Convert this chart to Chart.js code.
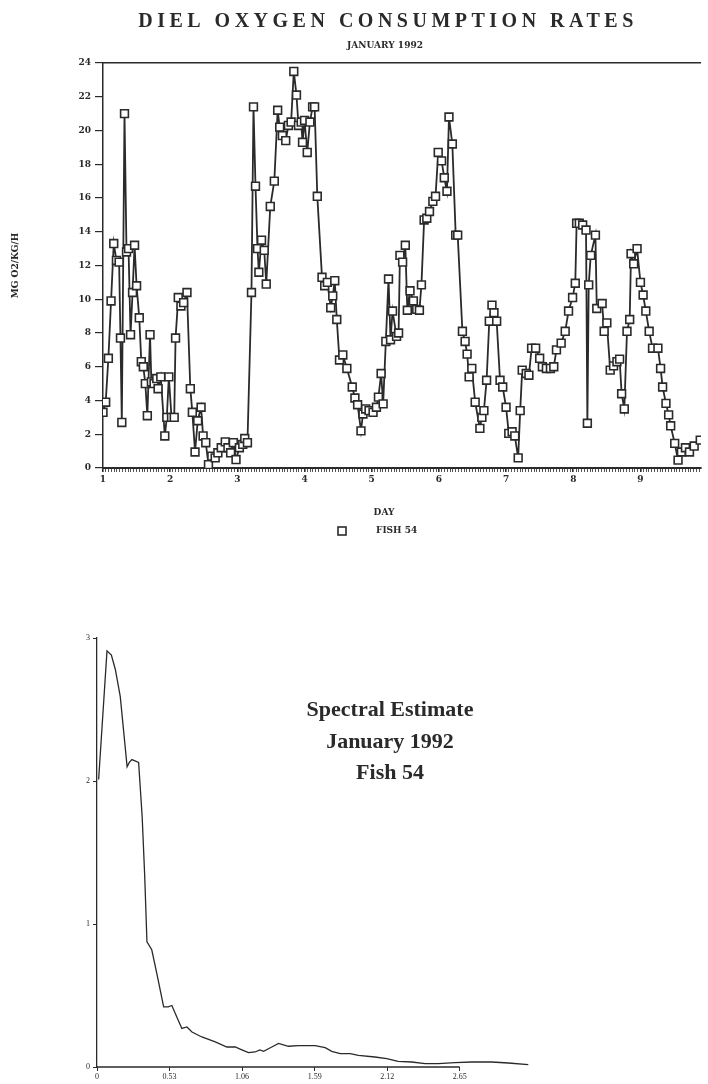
<!DOCTYPE html>
<html>
<head>
<meta charset="utf-8">
<script src="https://cdn.jsdelivr.net/npm/chart.js@4.4.0/dist/chart.umd.min.js"></script>
<style>
  html, body { margin: 0; padding: 0; background: #fff; }
  #wrap { position: relative; width: 708px; height: 1084px; overflow: hidden; background: #fff; }
  #top { position: absolute; left: 0; top: 0; }
  #bottom { position: absolute; left: 0; top: 600px; }
</style>
</head>
<body>
<div id="wrap">
  <canvas id="top" width="708" height="560"></canvas>
  <canvas id="bottom" width="708" height="484"></canvas>
</div>
<script>
// hourly readings, fish 54 (day of record, mg O2/kg/h)
const days = [1.00,1.04,1.08,1.12,1.16,1.20,1.24,1.26,1.28,1.32,
  1.35,1.38,1.41,1.44,1.47,1.50,1.54,1.57,1.60,1.63,
  1.66,1.70,1.72,1.76,1.80,1.82,1.86,1.92,1.95,1.98,
  2.02,2.06,2.08,2.12,2.16,2.20,2.25,2.30,2.33,2.37,
  2.41,2.46,2.49,2.53,2.57,2.62,2.67,2.71,2.76,2.82,
  2.86,2.90,2.94,2.98,3.03,3.08,3.11,3.15,3.21,3.24,
  3.27,3.30,3.32,3.36,3.40,3.43,3.49,3.55,3.60,3.63,
  3.67,3.72,3.76,3.80,3.84,3.88,3.91,3.95,3.97,4.00,
  4.04,4.08,4.12,4.15,4.19,4.26,4.30,4.34,4.39,4.42,
  4.45,4.48,4.52,4.57,4.63,4.71,4.75,4.79,4.84,4.87,
  4.91,4.96,5.02,5.07,5.10,5.14,5.17,5.21,5.25,5.28,
  5.31,5.37,5.40,5.42,5.46,5.50,5.53,5.57,5.62,5.67,
  5.71,5.74,5.78,5.82,5.86,5.91,5.95,5.99,6.04,6.08,
  6.12,6.15,6.20,6.25,6.28,6.35,6.39,6.42,6.45,6.49,
  6.54,6.61,6.64,6.67,6.71,6.75,6.79,6.82,6.86,6.91,
  6.95,7.00,7.04,7.09,7.13,7.18,7.21,7.24,7.30,7.34,
  7.38,7.44,7.50,7.54,7.60,7.66,7.71,7.75,7.82,7.88,
  7.93,7.99,8.03,8.05,8.09,8.14,8.19,8.21,8.23,8.26,
  8.33,8.35,8.43,8.46,8.50,8.55,8.60,8.65,8.69,8.72,
  8.76,8.80,8.84,8.86,8.90,8.95,9.00,9.04,9.08,9.13,
  9.18,9.26,9.30,9.33,9.38,9.42,9.45,9.51,9.56,9.61,
  9.67,9.73,9.80,9.89];
const rates = [3.3,3.9,6.5,9.9,13.3,12.3,12.2,7.7,2.7,21.0,
  12.8,13.0,7.9,10.4,13.2,10.8,8.9,6.3,6.0,5.0,
  3.1,7.9,5.1,5.0,5.3,4.7,5.4,1.9,3.0,5.4,
  3.0,3.0,7.7,10.1,9.6,9.8,10.4,4.7,3.3,0.95,
  2.8,3.6,1.9,1.5,0.2,0.7,0.6,0.9,1.2,1.55,
  1.2,0.9,1.5,0.5,1.2,1.4,1.75,1.5,10.4,21.4,
  16.7,13.0,11.6,13.5,12.9,10.9,15.5,17.0,21.2,20.2,
  19.7,19.4,20.3,20.5,23.5,22.1,20.3,20.5,19.3,20.6,
  18.7,20.5,21.4,21.4,16.1,11.3,10.8,11.0,9.5,10.2,
  11.1,8.8,6.4,6.7,5.9,4.8,4.15,3.75,2.2,3.2,
  3.5,3.4,3.3,3.6,4.2,5.6,3.8,7.5,11.2,7.6,
  9.3,7.8,8.0,12.6,12.2,13.2,9.35,10.5,9.9,9.4,
  9.35,10.85,14.7,14.8,15.2,15.8,16.1,18.7,18.2,17.2,
  16.4,20.8,19.2,13.8,13.8,8.1,7.5,6.75,5.4,5.9,
  3.9,2.35,3.0,3.4,5.2,8.7,9.65,9.2,8.7,5.2,
  4.8,3.6,2.05,2.15,1.9,0.6,3.4,5.8,5.6,5.5,
  7.1,7.1,6.5,6.0,5.9,5.9,6.0,7.0,7.4,8.1,
  9.3,10.1,10.95,14.5,14.5,14.4,14.1,2.65,10.85,12.6,
  13.8,9.45,9.75,8.1,8.6,5.8,6.05,6.3,6.45,4.4,
  3.5,8.1,8.8,12.7,12.1,13.0,11.0,10.25,9.3,8.1,
  7.1,7.1,5.9,4.8,3.83,3.15,2.5,1.46,0.47,0.95,
  1.2,0.95,1.3,1.65];
const dayTicks = [1, 2, 3, 4, 5, 6, 7, 8, 9];
const rateTicks = [0, 2, 4, 6, 8, 10, 12, 14, 16, 18, 20, 22, 24];

// spectral estimate
const freq = [0.012,0.073,0.105,0.134,0.17,0.22,0.236,0.255,0.304,0.33,
  0.348,0.365,0.40,0.438,0.487,0.52,0.547,0.583,0.62,0.657,
  0.694,0.766,0.864,0.949,1.01,1.058,1.107,1.155,1.19,1.217,
  1.277,1.326,1.399,1.472,1.594,1.667,1.715,1.777,1.85,1.91,
  2.03,2.117,2.20,2.30,2.397,2.494,2.616,2.737,2.883,3.005,3.151];
const power = [2.01,2.91,2.88,2.78,2.59,2.10,2.13,2.15,2.13,1.75,
  1.35,0.875,0.82,0.65,0.42,0.42,0.43,0.35,0.27,0.28,
  0.245,0.21,0.175,0.14,0.14,0.12,0.10,0.105,0.12,0.11,
  0.14,0.165,0.145,0.15,0.15,0.135,0.11,0.094,0.094,0.082,
  0.07,0.058,0.04,0.035,0.023,0.023,0.03,0.035,0.035,0.028,0.017];
const freqTicks = [0, 0.53, 1.06, 1.59, 2.12, 2.65];
const freqLabels = ['0', '0.53', '1.06', '1.59', '2.12', '2.65'];
const powerTicks = [0, 1, 2, 3];

const INK = '#2a2a2a';
const SERIF = '"Liberation Serif", "DejaVu Serif", serif';
const WIDE = '"DejaVu Serif", serif';

// headings and legend of the upper chart
const topText = {
  id: 'topText',
  afterDraw(chart) {
    const ctx = chart.ctx;
    ctx.save();
    ctx.fillStyle = INK;
    ctx.strokeStyle = INK;
    ctx.textBaseline = 'middle';
    ctx.textAlign = 'center';
    ctx.font = 'bold 20px ' + SERIF;
    if ('letterSpacing' in ctx) ctx.letterSpacing = '4.5px';
    ctx.fillText('DIEL OXYGEN CONSUMPTION RATES', 388, 22);
    if ('letterSpacing' in ctx) ctx.letterSpacing = '0px';
    ctx.font = 'bold 9px ' + WIDE;
    ctx.fillText('JANUARY 1992', 385, 46);
    ctx.fillText('DAY', 384, 513);
    ctx.lineWidth = 1.6;
    ctx.strokeRect(338, 527, 8, 8);
    ctx.textAlign = 'left';
    ctx.fillText('FISH 54', 376, 531);
    ctx.restore();
  }
};

new Chart(document.getElementById('top'), {
  type: 'line',
  data: {
    datasets: [{
      label: 'FISH 54',
      data: days.map((d, i) => ({ x: d, y: rates[i] })),
      borderColor: INK,
      borderWidth: 1.8,
      tension: 0,
      pointStyle: 'rect',
      pointRadius: 5.5,
      pointBorderWidth: 1.6,
      pointBackgroundColor: '#fff',
      pointBorderColor: INK
    }]
  },
  options: {
    responsive: false,
    animation: false,
    layout: { padding: { top: 63, left: 10, right: 0, bottom: 72 } },
    plugins: { legend: { display: false }, tooltip: { enabled: false } },
    scales: {
      x: {
        type: 'linear', min: 1, max: 9.9,
        afterBuildTicks: (s) => {
          const t = [];
          for (let h = 0; 1 + h / 24 <= 9.9; h++) t.push({ value: 1 + h / 24 });
          s.ticks = t;
        },
        afterFit: (s) => { s.height = 20; },
        ticks: {
          autoSkip: false, maxRotation: 0, padding: 2, color: INK,
          font: { family: WIDE, size: 9, weight: 'bold' },
          callback: (v) => {
            const d = dayTicks.find(k => Math.abs(k - v) < 1e-6);
            return d === undefined ? '' : String(d);
          }
        },
        grid: {
          drawOnChartArea: false, tickLength: 4,
          color: INK,
          lineWidth: (c) => (c.tick && dayTicks.some(k => Math.abs(k - c.tick.value) < 1e-6) ? 1.6 : 0.8)
        },
        border: { display: true, color: INK, width: 2 }
      },
      xTop: {
        type: 'linear', position: 'top', min: 1, max: 9.9,
        afterFit: (s) => { s.height = 0; },
        ticks: { display: false },
        grid: { display: false },
        border: { display: true, color: INK, width: 1.5 }
      },
      y: {
        min: 0, max: 24,
        afterBuildTicks: (s) => { s.ticks = rateTicks.map(v => ({ value: v })); },
        afterFit: (s) => { s.width = 93; },
        ticks: { padding: 4, color: INK, font: { family: WIDE, size: 9, weight: 'bold' } },
        grid: { drawOnChartArea: false, tickLength: 8, color: INK, lineWidth: 1.2 },
        border: { display: true, color: INK, width: 1.5 },
        title: {
          display: true, text: 'MG O2/KG/H', color: INK, padding: 0,
          font: { family: WIDE, size: 9, weight: 'bold' }
        }
      }
    }
  },
  plugins: [topText]
});

// heading inside the spectrum plot, and its short baseline
const spectrumText = {
  id: 'spectrumText',
  afterDraw(chart) {
    const ctx = chart.ctx;
    const { x, y } = chart.scales;
    ctx.save();
    ctx.strokeStyle = INK;
    ctx.lineWidth = 1.3;
    ctx.beginPath();
    ctx.moveTo(x.getPixelForValue(0), y.getPixelForValue(0));
    ctx.lineTo(x.getPixelForValue(freqTicks[freqTicks.length - 1]), y.getPixelForValue(0));
    ctx.stroke();
    ctx.fillStyle = INK;
    ctx.textAlign = 'center';
    ctx.textBaseline = 'middle';
    ctx.font = 'bold 22px ' + SERIF;
    ctx.fillText('Spectral Estimate', 390, 110);
    ctx.fillText('January 1992', 390, 142);
    ctx.fillText('Fish 54', 390, 173);
    ctx.restore();
  }
};

new Chart(document.getElementById('bottom'), {
  type: 'line',
  data: {
    datasets: [{
      label: 'Fish 54',
      data: freq.map((f, i) => ({ x: f, y: power[i] })),
      borderColor: INK,
      borderWidth: 1.3,
      tension: 0,
      pointRadius: 0
    }]
  },
  options: {
    responsive: false,
    animation: false,
    layout: { padding: { top: 38, left: 0, right: 173, bottom: 0 } },
    plugins: { legend: { display: false }, tooltip: { enabled: false } },
    scales: {
      x: {
        type: 'linear', min: 0, max: 3.2,
        afterBuildTicks: (s) => { s.ticks = freqTicks.map(v => ({ value: v })); },
        afterFit: (s) => { s.height = 17; },
        ticks: {
          autoSkip: false, maxRotation: 0, padding: 1, color: INK,
          font: { family: SERIF, size: 8 },
          callback: (v, i) => freqLabels[i]
        },
        grid: { drawOnChartArea: false, tickLength: 4, color: INK, lineWidth: 1 },
        border: { display: false }
      },
      y: {
        min: 0, max: 3,
        afterBuildTicks: (s) => { s.ticks = powerTicks.map(v => ({ value: v })); },
        afterFit: (s) => { s.width = 97; },
        ticks: { padding: 3, color: INK, font: { family: SERIF, size: 8 } },
        grid: { drawOnChartArea: false, tickLength: 4, color: INK, lineWidth: 1 },
        border: { display: true, color: INK, width: 1.3 }
      }
    }
  },
  plugins: [spectrumText]
});
</script>
</body>
</html>
